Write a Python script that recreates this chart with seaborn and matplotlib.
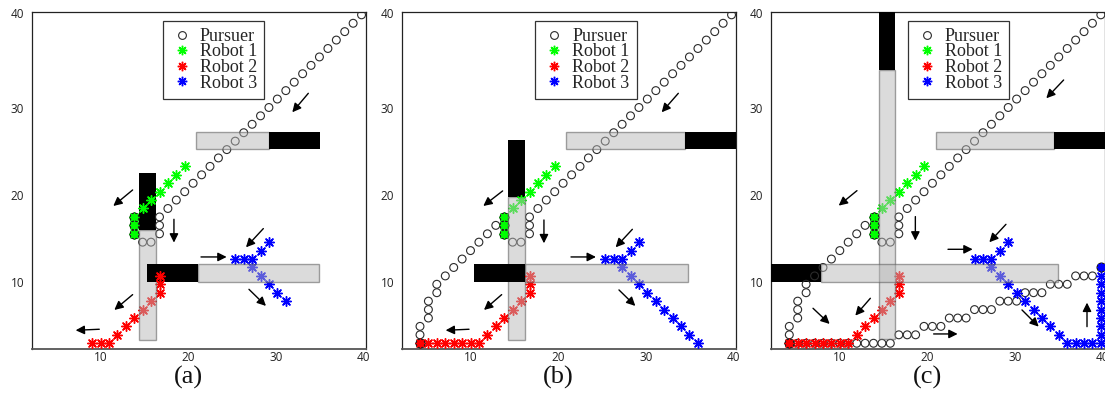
import matplotlib
matplotlib.use("Agg")
import matplotlib.pyplot as plt
import matplotlib.transforms as mtransforms
from matplotlib.patches import Rectangle
from matplotlib.lines import Line2D
import seaborn as sns

# ---------------- data ----------------
series_labels = ["Pursuer", "Robot 1", "Robot 2", "Robot 3"]
panel_labels = ["(a)", "(b)", "(c)"]
x_tick_values = [10, 20, 30, 40]
x_tick_labels = ["10", "20", "30", "40"]
y_tick_values = [10, 20, 30, 40.92]
y_tick_labels = ["10", "20", "30", "40"]

# pursuer: diagonal approach (all panels)
pursuer_leg1_x = [39.80, 38.84, 37.88, 36.92, 35.96, 34.99, 34.03, 33.07, 32.11, 31.15,
                  30.18, 29.22, 28.26, 27.30, 26.34, 25.37, 24.41, 23.45, 22.49, 21.53,
                  20.56, 19.60, 18.64, 17.68, 16.72, 16.72, 16.72, 15.75, 14.79]
pursuer_leg1_y = [40.74, 39.77, 38.81, 37.84, 36.87, 35.90, 34.93, 33.97, 33.00, 32.03,
                  31.06, 30.09, 29.13, 28.16, 27.19, 26.22, 25.25, 24.29, 23.32, 22.35,
                  21.38, 20.41, 19.45, 18.48, 17.51, 16.54, 15.57, 14.61, 14.61]
# pursuer: towards robot 2 (panels b, c)
pursuer_leg2_x = [12.87, 11.91, 10.94, 9.98, 9.02, 8.06, 7.10, 6.13, 6.13, 5.17, 5.17, 5.17, 4.21, 4.21]
pursuer_leg2_y = [16.54, 15.57, 14.61, 13.64, 12.67, 11.70, 10.73, 9.77, 8.80, 7.83, 6.86, 5.89, 4.93, 3.96]
# pursuer: towards robot 3 (panel c)
pursuer_leg3_x = [5.17, 6.13, 7.10, 8.06, 9.02, 9.98, 10.94, 11.91, 12.87, 13.83, 14.79, 15.75,
                  16.72, 17.68, 18.64, 19.60, 20.56, 21.53, 22.49, 23.45, 24.41, 25.37, 26.34, 27.30,
                  28.26, 29.22, 30.18, 31.15, 32.11, 33.07, 34.03, 34.99, 35.96, 36.92, 37.88, 38.84]
pursuer_leg3_y = [2.99, 2.99, 2.99, 2.99, 2.99, 2.99, 2.99, 2.99, 2.99, 2.99, 2.99, 2.99,
                  3.96, 3.96, 3.96, 4.93, 4.93, 4.93, 5.89, 5.89, 5.89, 6.86, 6.86, 6.86,
                  7.83, 7.83, 7.83, 8.80, 8.80, 8.80, 9.77, 9.77, 9.77, 10.73, 10.73, 10.73]

robot1_x = [19.60, 18.64, 17.68, 16.72, 15.75, 14.79, 13.83, 13.83, 13.83]
robot1_y = [23.32, 22.35, 21.38, 20.41, 19.45, 18.48, 17.51, 16.54, 15.57]

robot2_a_x = [9.02, 9.98, 10.94, 11.91, 12.87, 13.83, 14.79, 15.75, 16.72, 16.72, 16.72]
robot2_a_y = [2.99, 2.99, 2.99, 3.96, 4.93, 5.89, 6.86, 7.83, 8.80, 9.77, 10.73]
robot2_bc_x = [4.21, 5.17, 6.13, 7.10, 8.06, 9.02, 9.98, 10.94,
               11.91, 12.87, 13.83, 14.79, 15.75, 16.72, 16.72, 16.72]
robot2_bc_y = [2.99, 2.99, 2.99, 2.99, 2.99, 2.99, 2.99, 2.99,
               3.96, 4.93, 5.89, 6.86, 7.83, 8.80, 9.77, 10.73]

robot3_a_x = [29.22, 28.26, 27.30, 26.34, 25.37, 27.30, 28.26, 29.22, 30.18, 31.15]
robot3_a_y = [14.61, 13.64, 12.67, 12.67, 12.67, 11.70, 10.73, 9.77, 8.80, 7.83]
robot3_b_x = robot3_a_x + [32.11, 33.07, 34.03, 34.99, 35.96]
robot3_b_y = robot3_a_y + [6.86, 5.89, 4.93, 3.96, 2.99]
robot3_c_x = robot3_b_x + [36.92, 37.88, 38.84, 39.80,
                           39.80, 39.80, 39.80, 39.80, 39.80, 39.80, 39.80, 39.80]
robot3_c_y = robot3_b_y + [2.99, 2.99, 2.99, 2.99,
                           3.96, 4.93, 5.89, 6.86, 7.83, 8.80, 9.77, 10.73]

# captured robots (pursuer on top of robot)
capture1_x = [13.83, 13.83, 13.83]
capture1_y = [17.51, 16.54, 15.57]
capture2_x = [4.21]
capture2_y = [2.99]
capture3_x = [39.80]
capture3_y = [11.70]

# obstacles: open (gray) parts and blocked (black) parts: x0, x1, y0, y1
gray_a_x0 = [20.89, 14.38, 21.08]; gray_a_x1 = [29.27, 16.28, 34.90]
gray_a_y0 = [25.30, 3.37, 10.05];  gray_a_y1 = [27.25, 16.01, 12.05]
black_a_x0 = [29.27, 14.38, 15.33]; black_a_x1 = [35.05, 16.28, 21.08]
black_a_y0 = [25.30, 16.01, 10.05]; black_a_y1 = [27.25, 22.57, 12.05]

gray_b_x0 = [20.85, 14.30, 16.20]; gray_b_x1 = [34.48, 16.20, 34.86]
gray_b_y0 = [25.30, 3.37, 10.05];  gray_b_y1 = [27.25, 19.81, 12.05]
black_b_x0 = [34.48, 14.30, 10.38]; black_b_x1 = [41.50, 16.20, 16.20]
black_b_y0 = [25.30, 19.81, 10.05]; black_b_y1 = [27.25, 26.36, 12.05]

gray_c_x0 = [20.97, 14.42, 7.87];  gray_c_x1 = [34.45, 16.32, 34.87]
gray_c_y0 = [25.30, 3.50, 10.05];  gray_c_y1 = [27.25, 34.40, 12.05]
black_c_x0 = [34.45, 14.42, 1.00]; black_c_x1 = [41.50, 16.32, 7.87]
black_c_y0 = [25.30, 34.40, 10.05]; black_c_y1 = [27.25, 42.50, 12.05]

# motion arrows: tail (x0, y0) -> head (x1, y1)
arrow_a_x0 = [33.72, 13.65, 18.37, 28.58, 21.46, 26.94, 13.65, 9.84]
arrow_a_y0 = [31.72, 20.61, 17.24, 16.17, 12.91, 9.19, 8.58, 4.60]
arrow_a_x1 = [31.89, 11.44, 18.37, 26.60, 24.39, 28.88, 11.56, 7.14]
arrow_a_y1 = [29.54, 18.77, 14.56, 14.02, 12.91, 7.28, 6.82, 4.48]

arrow_b_x0 = [33.72, 13.65, 18.37, 28.47, 21.46, 26.94, 13.54, 9.81]
arrow_b_y0 = [31.72, 20.50, 17.16, 16.09, 12.91, 9.12, 8.58, 4.60]
arrow_b_x1 = [31.82, 11.44, 18.37, 26.56, 24.31, 28.81, 11.52, 7.14]
arrow_b_y1 = [29.54, 18.77, 14.48, 14.02, 12.91, 7.28, 6.82, 4.48]

arrow_c_x0 = [35.55, 11.94, 18.61, 28.96, 22.34, 6.92, 13.47, 20.70, 30.79, 38.22]
arrow_c_y0 = [33.25, 20.53, 17.55, 16.66, 13.79, 7.01, 8.16, 4.06, 6.82, 4.90]
arrow_c_x1 = [33.57, 9.85, 18.61, 27.06, 25.16, 8.82, 11.75, 23.44, 32.70, 38.22]
arrow_c_y1 = [31.15, 18.81, 14.79, 14.60, 13.79, 5.21, 6.17, 4.06, 4.90, 7.66]

# ---------------- styling ----------------
sns.set_style("white")
plt.rcParams["font.family"] = ["Open Sans", "DejaVu Sans"]

GREEN, RED, BLUE = "#00ff00", "#ff0000", "#0000ff"
STAR = (8, 2, 0)
PURSUER_EDGE = "#2b2b2b"

panels = [
    dict(pursuer_x=pursuer_leg1_x, pursuer_y=pursuer_leg1_y,
         r2x=robot2_a_x, r2y=robot2_a_y, r3x=robot3_a_x, r3y=robot3_a_y,
         caps=[(capture1_x, capture1_y, GREEN)],
         gray=(gray_a_x0, gray_a_x1, gray_a_y0, gray_a_y1),
         black=(black_a_x0, black_a_x1, black_a_y0, black_a_y1),
         arrows=(arrow_a_x0, arrow_a_y0, arrow_a_x1, arrow_a_y1),
         left=31.7, leg_left=162.7),
    dict(pursuer_x=pursuer_leg1_x + pursuer_leg2_x, pursuer_y=pursuer_leg1_y + pursuer_leg2_y,
         r2x=robot2_bc_x, r2y=robot2_bc_y, r3x=robot3_b_x, r3y=robot3_b_y,
         caps=[(capture1_x, capture1_y, GREEN), (capture2_x, capture2_y, RED)],
         gray=(gray_b_x0, gray_b_x1, gray_b_y0, gray_b_y1),
         black=(black_b_x0, black_b_x1, black_b_y0, black_b_y1),
         arrows=(arrow_b_x0, arrow_b_y0, arrow_b_x1, arrow_b_y1),
         left=401.7, leg_left=535.0),
    dict(pursuer_x=pursuer_leg1_x + pursuer_leg2_x + pursuer_leg3_x,
         pursuer_y=pursuer_leg1_y + pursuer_leg2_y + pursuer_leg3_y,
         r2x=robot2_bc_x, r2y=robot2_bc_y, r3x=robot3_c_x, r3y=robot3_c_y,
         caps=[(capture1_x, capture1_y, GREEN), (capture2_x, capture2_y, RED),
               (capture3_x, capture3_y, BLUE)],
         gray=(gray_c_x0, gray_c_x1, gray_c_y0, gray_c_y1),
         black=(black_c_x0, black_c_x1, black_c_y0, black_c_y1),
         arrows=(arrow_c_x0, arrow_c_y0, arrow_c_x1, arrow_c_y1),
         left=771.0, leg_left=907.7),
]

W, H = 1105.0, 394.0
AX_W, AX_TOP, AX_BOT = 334.3, 11.7, 349.0


def draw_markers(ax, p, zorder, clip=None):
    specs = [
        (p["pursuer_x"], p["pursuer_y"],
         dict(marker="o", s=32, color=PURSUER_EDGE, facecolor="none",
              edgecolor=PURSUER_EDGE, linewidth=0.8)),
        (robot1_x, robot1_y, dict(marker=STAR, s=48, color=GREEN, linewidth=1.05)),
        (p["r2x"], p["r2y"], dict(marker=STAR, s=48, color=RED, linewidth=1.05)),
        (p["r3x"], p["r3y"], dict(marker=STAR, s=48, color=BLUE, linewidth=1.05)),
    ]
    for cx, cy, col in p["caps"]:
        specs.append((cx, cy, dict(marker="o", s=40, color=col,
                                   edgecolor="#1c1c1c", linewidth=0.9)))
        specs.append((cx, cy, dict(marker=STAR, s=34, color=col, linewidth=0.8)))
    for xs, ys, kw in specs:
        sns.scatterplot(x=xs, y=ys, ax=ax, zorder=zorder, legend=False, **kw)
        if clip is not None:
            ax.collections[-1].set_clip_path(clip)


fig = plt.figure(figsize=(W / 100, H / 100), dpi=100)

for i, p in enumerate(panels):
    ax = fig.add_axes([p["left"] / W, 1 - AX_BOT / H, AX_W / W, (AX_BOT - AX_TOP) / H])
    ax.set_xlim(2.12, 40.31)
    ax.set_ylim(2.33, 41.10)

    # open (gray, translucent) wall parts drawn above the markers
    gx0, gx1, gy0, gy1 = p["gray"]
    for a, b, c, d in zip(gx0, gx1, gy0, gy1):
        ax.add_patch(Rectangle((a, c), b - a, d - c, facecolor=(0.72, 0.72, 0.72, 0.5),
                               edgecolor=(0.35, 0.35, 0.35, 0.55), linewidth=1.0, zorder=4))
    # blocked (black) wall parts
    black_patches = []
    bx0, bx1, by0, by1 = p["black"]
    for a, b, c, d in zip(bx0, bx1, by0, by1):
        rp = Rectangle((a, c), b - a, d - c, facecolor="black", edgecolor="none", zorder=4.5)
        ax.add_patch(rp)
        black_patches.append(rp)

    draw_markers(ax, p, zorder=3)
    for rp in black_patches:
        draw_markers(ax, p, zorder=5, clip=rp)

    ax0, ay0, ax1, ay1 = p["arrows"]
    for a, b, c, d in zip(ax0, ay0, ax1, ay1):
        ax.annotate("", xy=(c, d), xytext=(a, b),
                    arrowprops=dict(arrowstyle="-|>", color="black", lw=1.0,
                                    mutation_scale=13, shrinkA=0, shrinkB=0),
                    zorder=6)

    ax.set_xticks(x_tick_values)
    ax.set_xticklabels(x_tick_labels)
    ax.set_yticks(y_tick_values)
    ax.set_yticklabels(y_tick_labels)
    ax.tick_params(axis="both", direction="in", length=3.8, width=0.8,
                   labelsize=8.5, colors="#222222", top=False, right=False)
    ax.tick_params(axis="x", pad=1.5)
    ax.tick_params(axis="y", pad=5.5)
    ax.yaxis.get_major_ticks()[-1].tick1line.set_visible(False)
    for side, sp in ax.spines.items():
        sp.set_visible(True)
        sp.set_color("#222222")
        sp.set_linewidth(0.9)
    ax.spines["bottom"].set_color("#555555")
    ax.spines["bottom"].set_linewidth(1.3)
    ax.set_xlabel("")
    ax.set_ylabel("")

    handles = [
        Line2D([], [], linestyle="none", marker="o", markersize=5.6, markerfacecolor="none",
               markeredgecolor=PURSUER_EDGE, markeredgewidth=0.8),
        Line2D([], [], linestyle="none", marker=STAR, markersize=6.8, color=GREEN,
               markeredgewidth=1.05),
        Line2D([], [], linestyle="none", marker=STAR, markersize=6.8, color=RED,
               markeredgewidth=1.05),
        Line2D([], [], linestyle="none", marker=STAR, markersize=6.8, color=BLUE,
               markeredgewidth=1.05),
    ]
    anchor_x = (p["leg_left"] - p["left"]) / AX_W
    anchor_y = 1 - (20.7 - AX_TOP) / (AX_BOT - AX_TOP)
    leg = ax.legend(handles, series_labels, loc="upper left", bbox_to_anchor=(anchor_x, anchor_y),
                    borderaxespad=0, frameon=True, fancybox=False, framealpha=1,
                    edgecolor="#333333", prop={"family": "Liberation Serif", "size": 13},
                    handlelength=1.3, handletextpad=0.36, borderpad=0.4,
                    labelspacing=-0.08, scatterpoints=1)
    leg.get_frame().set_linewidth(0.9)
    leg.set_zorder(10)

    trans = mtransforms.blended_transform_factory(ax.transData, ax.transAxes)
    ax.text(20.0, -0.084, panel_labels[i], transform=trans, ha="center", va="center",
            family="Liberation Serif", fontsize=19, color="#111111")

fig.savefig("out.png", dpi=100)
